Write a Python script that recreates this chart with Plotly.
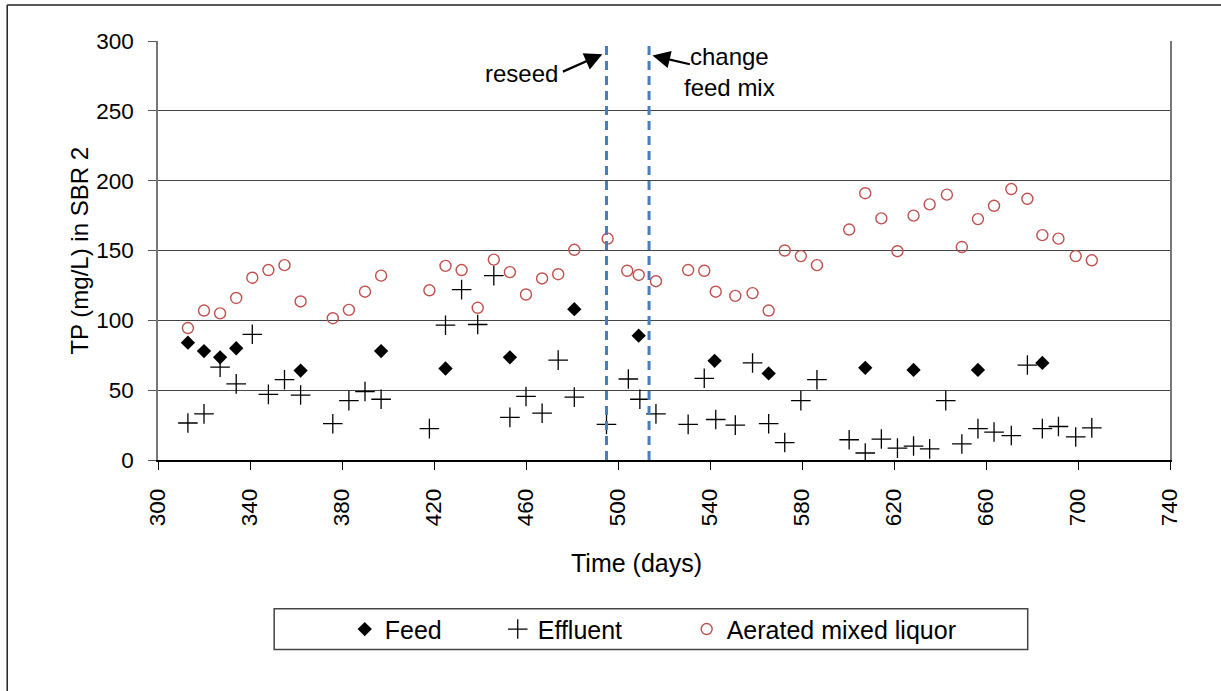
import plotly.graph_objects as go

# ---------------- data ----------------
feed_day = [313, 320, 327, 334, 362, 397, 425, 453, 481, 509, 542, 565.5, 607.5, 628.5, 656.5, 684.5]
feed_tp = [84, 78, 73.5, 80, 64, 78, 65.5, 73.5, 108, 89, 71, 62, 66, 64.5, 64.5, 69.5]

effluent_day = [313, 320, 327, 334, 341, 348, 355, 362, 376, 383, 390, 397, 418, 425,
                432, 439, 446, 453, 460, 467, 474, 481, 495, 504.5, 509.5, 516.5, 530.5,
                537.5, 542.5, 551, 558.5, 565.5, 572.5, 579.5, 586.5, 600.5, 607.5, 614.5,
                621.5, 628.5, 635.5, 642.5, 649.5, 656.5, 663.5, 671, 678, 684.5, 691.5,
                699, 706]
effluent_tp = [26.5, 33, 66.5, 54.5, 90, 47, 57.5, 46.5, 26, 42.5, 49, 43.5, 22.5, 96.5,
               122, 97, 132, 30.5, 45.5, 33.5, 71.5, 45, 25.5, 58, 43.5, 33, 25.5,
               58.5, 29, 25, 69.5, 26, 12.5, 42.5, 57.5, 14.5, 5, 15, 8.5,
               10, 8, 42.5, 11.5, 22.5, 20, 17.5, 68, 22.5, 24,
               16.5, 23]

aml_day = [313, 320, 327, 334, 341, 348, 355, 362, 376, 383, 390, 397, 418, 425,
           432, 439, 446, 453, 460, 467, 474, 481, 495.5, 504, 509, 516.5, 530.5,
           537.5, 542.5, 551, 558.5, 565.5, 572.5, 579.5, 586.5, 600.5, 607.5, 614.5,
           621.5, 628.5, 635.5, 643, 649.5, 656.5, 663.5, 671, 678, 684.5, 691.5,
           699, 706]
aml_tp = [94.5, 107, 105, 116, 130.5, 136, 139.5, 113.5, 101.5, 107.5, 120.5, 132, 121.5, 139,
          136, 109, 143.5, 134.5, 118.5, 130, 133, 150.5, 158.5, 135.5, 132.5, 128, 136,
          135.5, 120.5, 117.5, 119.5, 107, 150, 146, 139.5, 165, 191, 173, 149.5,
          175, 183, 190, 152.5, 172.5, 182, 194, 187, 161, 158.5, 146, 143]

reseed_day = 495
change_feed_day = 513.5

x_ticks = list(range(300, 741, 40))
y_ticks = list(range(0, 301, 50))

FONT = "Liberation Sans, Arial, sans-serif"

fig = go.Figure()
fig.add_trace(go.Scatter(
    x=feed_day, y=feed_tp, mode="markers", name="Feed", legend="legend",
    marker=dict(symbol="diamond", size=11, color="black")))
fig.add_trace(go.Scatter(
    x=effluent_day, y=effluent_tp, mode="markers", name="Effluent", legend="legend2",
    marker=dict(symbol="cross-thin", size=14, color="black",
                line=dict(color="black", width=1.3))))
fig.add_trace(go.Scatter(
    x=aml_day, y=aml_tp, mode="markers", name="Aerated mixed liquor", legend="legend3",
    marker=dict(symbol="circle-open", size=11, color="#c0504d",
                line=dict(color="#c0504d", width=1.4))))

# dashed event lines
for d in (reseed_day, change_feed_day):
    fig.add_shape(type="line", xref="x", yref="paper", x0=d, x1=d, y0=0, y1=1,
                  line=dict(color="#4a7ebb", width=3, dash="9px,6px"), layer="above")

# legend box and outer chart border
fig.add_shape(type="rect", xref="paper", yref="paper", x0=0.1148, x1=0.8594,
              y0=-0.4524, y1=-0.3553, line=dict(color="#444", width=1.5))
fig.add_shape(type="line", xref="paper", yref="paper", x0=-0.149, x1=1.06,
              y0=1.086, y1=1.086, line=dict(color="#222", width=1.5))
fig.add_shape(type="line", xref="paper", yref="paper", x0=-0.149, x1=-0.149,
              y0=1.086, y1=-0.6, line=dict(color="#222", width=1.5))

# annotations
fig.add_annotation(x=474.6, y=276.5, xref="x", yref="y", text="reseed", showarrow=False,
                   xanchor="right", yanchor="middle", font=dict(family=FONT, size=24, color="black"))
fig.add_annotation(x=reseed_day - 1.8, y=290.5, ax=475.4, ay=277.6, xref="x", yref="y",
                   axref="x", ayref="y", text="", showarrow=True, arrowhead=2,
                   arrowsize=1.6, arrowwidth=2.2, arrowcolor="black")
fig.add_annotation(x=548.6, y=277.8, xref="x", yref="y", text="change<br>feed mix",
                   showarrow=False, xanchor="center", yanchor="middle", align="center",
                   font=dict(family=FONT, size=24, color="black"))
fig.add_annotation(x=change_feed_day + 1.5, y=289.6, ax=531.9, ay=283.1, xref="x", yref="y",
                   axref="x", ayref="y", text="", showarrow=True, arrowhead=2,
                   arrowsize=1.6, arrowwidth=2.2, arrowcolor="black")

# axis titles
fig.add_annotation(x=0.473, y=-0.246, xref="paper", yref="paper", text="Time (days)",
                   showarrow=False, xanchor="center", yanchor="middle",
                   font=dict(family=FONT, size=25, color="black"))
fig.add_annotation(x=-0.078, y=0.5, xref="paper", yref="paper", text="TP (mg/L) in SBR 2",
                   showarrow=False, xanchor="center", yanchor="middle", textangle=-90,
                   font=dict(family=FONT, size=24, color="black"))

legend_common = dict(orientation="h", yanchor="middle", xanchor="left", y=-0.404,
                     bgcolor="rgba(0,0,0,0)", borderwidth=0,
                     font=dict(family=FONT, size=25, color="black"))

fig.update_layout(
    width=1221, height=691,
    margin=dict(l=158, r=51, t=41, b=231),
    paper_bgcolor="white", plot_bgcolor="white",
    font=dict(family=FONT, size=22, color="black"),
    showlegend=True,
    legend=dict(x=0.1845, **legend_common),
    legend2=dict(x=0.3357, **legend_common),
    legend3=dict(x=0.5224, **legend_common),
    xaxis=dict(range=[300, 740], tickvals=x_ticks, ticktext=[str(v) for v in x_ticks],
               tickangle=-90, ticks="outside", ticklen=8, tickcolor="black",
               showline=True, linecolor="black", linewidth=1.5, showgrid=False,
               zeroline=False, ticklabelstandoff=10,
               tickfont=dict(family=FONT, size=22.5, color="black")),
    yaxis=dict(range=[0, 300], tickvals=y_ticks, ticks="outside", ticklen=8,
               tickcolor="#555", showline=True, linecolor="#777", linewidth=1.5,
               mirror=True, showgrid=True, gridcolor="#444", gridwidth=1,
               zeroline=False, ticklabelstandoff=10,
               tickfont=dict(family=FONT, size=22.5, color="black")),
)

fig.write_html("out.html")
